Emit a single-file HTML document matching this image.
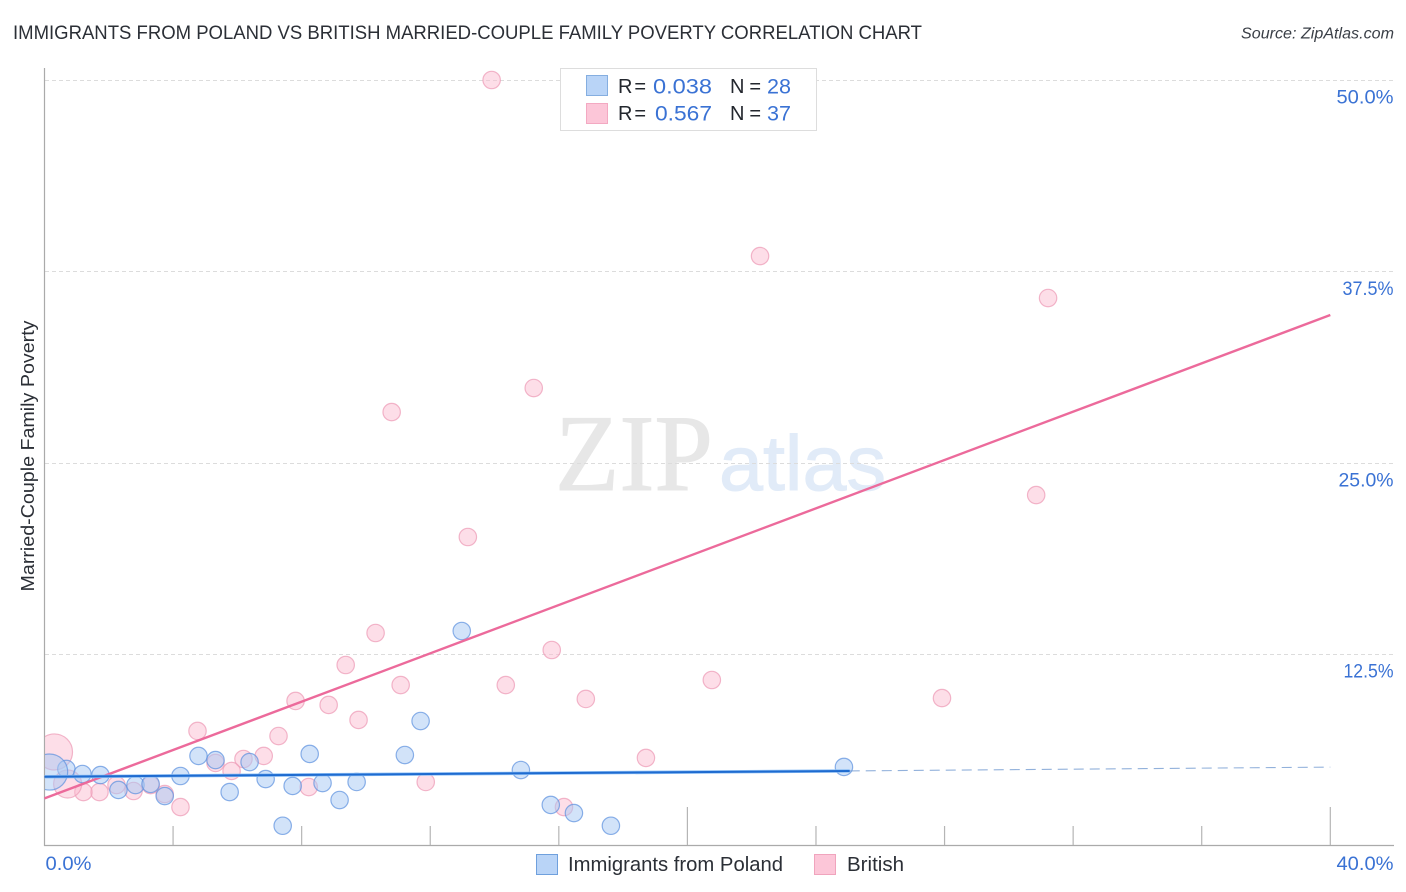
<!DOCTYPE html>
<html lang="en">
<head>
<meta charset="utf-8">
<title>Immigrants from Poland vs British Married-Couple Family Poverty Correlation Chart</title>
<style>
html,body{margin:0;padding:0;background:#fff;}
svg{display:block;font-family:"Liberation Sans",sans-serif;}
</style>
</head>
<body>
<svg id="chart" width="1406" height="892" viewBox="0 0 1406 892" xmlns="http://www.w3.org/2000/svg">
  <defs>
    <clipPath id="plot-clip"><rect x="45" y="60" width="1349" height="785"/></clipPath>
  </defs>
  <rect x="0" y="0" width="1406" height="892" fill="#ffffff"/>
  <text x="13" y="39" font-size="19.5" fill="#2b2f36" textLength="909" lengthAdjust="spacingAndGlyphs">IMMIGRANTS FROM POLAND VS BRITISH MARRIED-COUPLE FAMILY POVERTY CORRELATION CHART</text>
  <text x="1394" y="38.5" font-size="15.5" font-style="italic" fill="#3a3f47" text-anchor="end" textLength="153" lengthAdjust="spacingAndGlyphs">Source: ZipAtlas.com</text>

  <g>
    <text x="555" y="490" font-family="'Liberation Serif',serif" font-size="109" fill="#e7e7e7" stroke="#e7e7e7" stroke-width="1" textLength="158" lengthAdjust="spacingAndGlyphs">ZIP</text>
    <text x="719" y="490" font-size="78" fill="#e1ebf8" stroke="#e1ebf8" stroke-width="1" textLength="167" lengthAdjust="spacingAndGlyphs">atlas</text>
  </g>

  <g id="grid"></g>
  <g id="axes"></g>
  <g id="marks" clip-path="url(#plot-clip)"></g>
  <g id="trends"></g>
  <g id="ticklabels"></g>

  <text transform="translate(34 456) rotate(-90)" font-size="18.5" fill="#2b2f36" text-anchor="middle" textLength="271" lengthAdjust="spacingAndGlyphs">Married-Couple Family Poverty</text>

  <g>
    <rect x="560.5" y="68.5" width="256" height="62" fill="#ffffff" stroke="#dddddd" stroke-width="1"/>
    <rect x="586.5" y="75.5" width="21" height="20" fill="#b9d4f7" stroke="#85aee0"/>
    <rect x="586.5" y="103.5" width="21" height="20" fill="#fcc6d8" stroke="#f3a9c2"/>
    <g font-size="20" fill="#23272e">
      <text x="618" y="93" textLength="28" lengthAdjust="spacing">R =</text>
      <text x="730" y="93" textLength="31" lengthAdjust="spacing">N =</text>
      <text x="618" y="120" textLength="28" lengthAdjust="spacing">R =</text>
      <text x="730" y="120" textLength="31" lengthAdjust="spacing">N =</text>
    </g>
    <g font-size="21" fill="#3a72d4">
      <text x="653" y="93.5" textLength="59" lengthAdjust="spacingAndGlyphs">0.038</text>
      <text x="767" y="93.5" textLength="24" lengthAdjust="spacingAndGlyphs">28</text>
      <text x="655" y="120.5" textLength="57" lengthAdjust="spacingAndGlyphs">0.567</text>
      <text x="767" y="120.5" textLength="24" lengthAdjust="spacingAndGlyphs">37</text>
    </g>
  </g>

  <g>
    <g>
      <rect x="536.5" y="854.5" width="21" height="20" fill="#b9d4f7" stroke="#6fa0dd"/>
      <text x="568" y="871" font-size="20" fill="#2b2f36" textLength="215" lengthAdjust="spacingAndGlyphs">Immigrants from Poland</text>
    </g>
    <g>
      <rect x="814.5" y="854.5" width="21" height="20" fill="#fcc6d8" stroke="#f0a4bd"/>
      <text x="847" y="871" font-size="20" fill="#2b2f36" textLength="57" lengthAdjust="spacingAndGlyphs">British</text>
    </g>
  </g>
</svg>
<script>
var polandX = [0.68,1.18,1.74,2.30,2.83,3.30,3.74,4.23,4.79,5.32,5.76,6.38,6.88,7.72,7.41,8.25,8.65,9.18,9.71,11.21,11.70,12.98,14.82,15.75,16.47,17.62,24.87,0.16];
var polandY = [5.00,4.67,4.60,3.63,3.95,4.02,3.23,4.54,5.85,5.58,3.49,5.45,4.34,3.89,1.29,5.98,4.08,2.97,4.15,5.91,8.13,14.01,4.93,2.65,2.12,1.29,5.13,4.80];
var polandWeight = [1,1,1,1,1,1,1,1,1,1,1,1,1,1,1,1,1,1,1,1,1,1,1,1,1,1,1,4.3];

var britishX = [13.91,22.26,31.22,15.22,10.80,30.85,13.17,10.30,15.78,9.37,11.08,14.35,20.76,16.84,27.92,7.81,8.84,9.77,4.76,7.28,6.19,6.82,5.32,5.82,18.71,11.86,8.22,2.24,2.77,1.71,1.21,3.74,3.30,4.23,16.16,0.31,0.72];
var britishY = [50.00,38.50,35.76,29.88,28.31,22.89,20.15,13.88,12.77,11.79,10.48,10.48,10.81,9.57,9.63,9.44,9.18,8.20,7.48,7.15,5.65,5.85,5.39,4.87,5.72,4.15,3.82,3.95,3.56,3.49,3.49,3.36,3.95,2.51,2.51,6.11,4.02];
var britishWeight = [1,1,1,1,1,1,1,1,1,1,1,1,1,1,1,1,1,1,1,1,1,1,1,1,1,1,1,1,1,1,1,1,1,1,1,4.3,2.6];

var yTickValues = [12.5,25,37.5,50];
var yTickLabels = ["12.5%","25.0%","37.5%","50.0%"];
var yTickLabelWidths = [50,55,51,57];
var xTickValues = [4,8,12,16,20,24,28,32,36,40];
var xMajorTicks = [20,40];
var xEndValues = [0,40];
var xEndLabels = ["0.0%","40.0%"];
var xEndLabelWidths = [46,57];

var polandTrendX = [0,25.05];
var polandTrendY = [4.49,4.87];
var polandDashX = [25.05,40];
var polandDashY = [4.87,5.12];
var britishTrendX = [0,40];
var britishTrendY = [3.08,34.65];

var NS = 'http://www.w3.org/2000/svg';
function sx(v){ return 44.5 + v * 32.145; }
function sy(v){ return 845.5 - v * 15.31; }
function make(tag, attrs, parent){
  var el = document.createElementNS(NS, tag);
  for (var k in attrs) el.setAttribute(k, attrs[k]);
  parent.appendChild(el);
  return el;
}
var grid = document.getElementById('grid');
var axes = document.getElementById('axes');
var marks = document.getElementById('marks');
var trends = document.getElementById('trends');
var labels = document.getElementById('ticklabels');

yTickValues.forEach(function(v, i){
  var y = Math.round(sy(v)) + 0.5;
  var line = make('line', {x1:45, x2:1394, y1:y, y2:y, stroke:'#dcdcdc', 'stroke-width':1, 'stroke-dasharray':'4 3'}, grid);
  
  
  var t = make('text', {x:1393.5, y:sy(v) + 23.5, 'font-size':19.5, fill:'#3a72d4', 'text-anchor':'end', textLength:yTickLabelWidths[i], lengthAdjust:'spacingAndGlyphs'}, labels);
  
  
  t.textContent = yTickLabels[i];
});

var yAxis = make('line', {x1:44.5, x2:44.5, y1:68, y2:846, stroke:'#aaaaaa', 'stroke-width':1.2}, axes);


var xAxis = make('line', {x1:44, x2:1394, y1:845.5, y2:845.5, stroke:'#aaaaaa', 'stroke-width':1.2}, axes);



xTickValues.forEach(function(v){
  var x = sx(v);
  var top = xMajorTicks.indexOf(v) >= 0 ? 807 : 826;
  var tick = make('line', {x1:x, x2:x, y1:top, y2:845, stroke:'#b5b5b5', 'stroke-width':1.2}, axes);
  
  
});

xEndValues.forEach(function(v, i){
  var isFirst = i === 0;
  var t = make('text', {x:isFirst ? sx(v) + 1 : 1393.5, y:870, 'font-size':19.5, fill:'#3a72d4', 'text-anchor':isFirst ? 'start' : 'end', textLength:xEndLabelWidths[i], lengthAdjust:'spacingAndGlyphs'}, labels);
  
  
  t.textContent = xEndLabels[i];
});

function radius(w){ return 8.7 * Math.sqrt(w); }

britishX.forEach(function(v, i){
  var c = make('circle', {cx:sx(v), cy:sy(britishY[i]), r:radius(britishWeight[i]), fill:'#fbb9cf', 'fill-opacity':0.48, stroke:'#ee9db8', 'stroke-opacity':0.75, 'stroke-width':1.2}, marks);
  
  
});
polandX.forEach(function(v, i){
  var c = make('circle', {cx:sx(v), cy:sy(polandY[i]), r:radius(polandWeight[i]), fill:'#a9c9f3', 'fill-opacity':0.52, stroke:'#5b90de', 'stroke-opacity':0.7, 'stroke-width':1.2}, marks);
  
  
});

var bt = make('line', {x1:sx(britishTrendX[0]), y1:sy(britishTrendY[0]), x2:sx(britishTrendX[1]), y2:sy(britishTrendY[1]), stroke:'#ec6a9b', 'stroke-width':2.4}, trends);


var ph = make('line', {x1:sx(polandTrendX[0]), y1:sy(polandTrendY[0]), x2:sx(polandTrendX[1]), y2:sy(polandTrendY[1]), stroke:'#8fc0f5', 'stroke-width':3.4}, trends);


var pt = make('line', {x1:sx(polandTrendX[0]), y1:sy(polandTrendY[0]), x2:sx(polandTrendX[1]), y2:sy(polandTrendY[1]), stroke:'#1e6bd0', 'stroke-width':2}, trends);


var pd = make('line', {x1:sx(polandDashX[0]), y1:sy(polandDashY[0]), x2:sx(polandDashX[1]), y2:sy(polandDashY[1]), stroke:'#6d97cf', 'stroke-opacity':0.75, 'stroke-width':1.1, 'stroke-dasharray':'10 6'}, trends);


</script>
</body>
</html>
